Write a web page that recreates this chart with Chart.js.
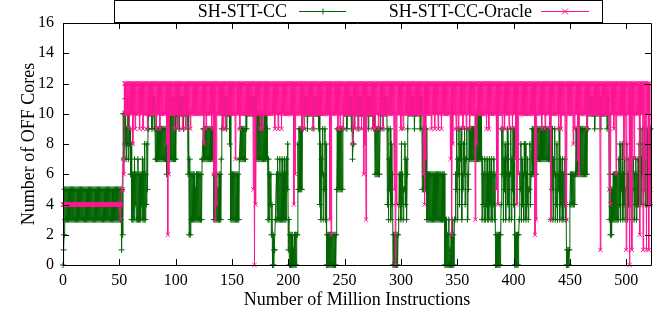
<!DOCTYPE html>
<html>
<head>
<meta charset="utf-8">
<script src="https://cdn.jsdelivr.net/npm/chart.js@4/dist/chart.umd.min.js"></script>
<style>
  html, body { margin: 0; padding: 0; background: #fff; }
  #wrap { width: 657px; height: 323px; }
</style>
</head>
<body>
<div id="wrap"><canvas id="c" width="657" height="323"></canvas></div>
<script>
// OFF cores per million instructions (x = 0 .. 521).
// Each interval holds a low and a high sample: low is plotted at x, high at x + 0.5.
const seriesNames = ['SH-STT-CC', 'SH-STT-CC-Oracle'];

const ccLow = [
  0,2,3,3,3,3,3,3,3,3,
  3,3,3,3,3,3,3,3,3,3,
  3,3,3,3,3,3,3,3,3,3,
  3,3,3,3,3,3,3,3,3,3,
  3,3,3,3,3,3,3,3,3,3,
  3,3,1,2,7,8,7,8,7,8,
  6,3,3,3,4,3,3,3,3,3,
  4,3,3,3,4,5,9,10,10,9,
  10,9,7,7,7,7,7,7,7,7,
  7,7,6,7,7,7,7,7,7,7,
  7,10,10,9,10,10,10,9,10,10,
  10,6,2,2,3,3,3,3,3,3,
  3,3,3,3,7,7,7,7,7,7,
  7,7,7,7,3,3,3,3,3,3,
  3,9,10,10,10,9,10,10,8,3,
  3,3,3,3,3,3,3,7,7,7,
  7,7,7,9,10,10,10,10,10,10,
  10,10,7,7,7,7,7,7,7,7,
  7,7,3,3,4,2,0,0,1,3,
  3,3,3,3,3,3,3,3,3,5,
  1,0,0,0,0,0,0,0,2,5,
  5,5,5,9,10,10,10,9,10,10,
  10,10,9,10,10,10,10,9,4,3,
  6,3,5,3,0,0,0,0,0,0,
  0,0,0,5,5,5,5,5,5,10,
  10,10,9,10,10,10,9,7,8,10,
  10,10,9,10,10,10,10,9,10,10,
  10,9,10,10,10,10,9,6,6,6,
  6,6,10,10,9,10,10,10,4,3,
  5,3,4,0,0,0,0,0,3,4,
  3,4,3,5,4,3,9,10,10,10,
  10,10,9,10,10,10,10,9,10,5,
  5,5,5,3,3,3,3,3,3,3,
  3,3,3,3,3,3,3,3,3,0,
  0,0,0,0,0,0,0,0,3,5,
  3,6,4,7,3,5,6,4,7,3,
  5,7,7,7,7,7,7,7,7,7,
  7,7,3,4,3,3,4,3,3,4,
  3,3,4,3,0,0,0,0,0,4,
  6,3,5,3,7,4,3,6,3,5,
  4,0,0,0,0,3,5,3,4,3,
  6,3,4,3,5,4,6,6,6,6,
  6,7,7,7,7,7,7,7,7,7,
  7,7,7,3,5,3,6,3,4,3,
  5,3,4,3,3,4,3,0,0,0,
  4,4,4,4,4,6,6,6,6,6,
  6,6,6,6,6,6,9,10,10,10,
  10,10,9,10,10,10,10,9,10,10,
  10,10,10,9,10,3,2,2,3,3,
  3,3,3,3,4,3,5,3,4,3,
  5,3,4,3,4,3,5,3,4,3,
  4,4,5,4,6,4,5,4,6,4,
  5,4
];

const ccHigh = [
  1,5,5,5,5,5,5,5,5,5,
  5,5,5,5,5,5,5,5,5,5,
  5,5,5,5,5,5,5,5,5,5,
  5,5,5,5,5,5,5,5,5,5,
  5,5,5,5,5,5,5,5,5,5,
  5,5,5,10,10,11,9,11,10,9,
  8,6,6,7,6,6,7,6,6,6,
  7,6,8,6,8,9,11,11,11,11,
  11,11,9,9,9,9,9,9,9,9,
  9,9,9,9,11,10,11,11,10,11,
  10,11,11,11,11,11,11,11,11,11,
  11,10,7,6,6,6,6,5,6,6,
  6,6,6,7,9,9,9,9,9,9,
  9,9,9,9,6,6,6,5,6,6,
  7,11,11,11,11,11,11,11,10,6,
  6,6,6,6,6,6,7,9,9,9,
  9,9,10,11,11,11,11,11,11,11,
  11,11,10,10,10,10,10,9,10,10,
  10,9,7,6,6,4,2,1,3,6,
  7,6,7,6,7,6,7,6,7,8,
  3,2,2,2,1,2,2,2,8,9,
  9,9,9,11,11,11,11,11,11,11,
  11,11,11,11,11,11,11,11,8,7,
  9,6,9,8,2,2,2,2,2,2,
  2,2,2,9,9,9,9,9,9,11,
  11,11,11,11,11,11,11,8,10,11,
  11,11,11,11,11,11,11,11,11,11,
  11,11,11,11,11,11,11,9,9,9,
  9,9,11,11,11,11,11,11,9,7,
  9,8,6,2,2,2,2,2,6,6,
  8,6,5,8,7,6,11,11,11,11,
  11,11,11,11,11,11,11,11,11,9,
  9,9,9,6,6,6,6,6,6,6,
  6,6,6,6,6,6,6,6,6,3,
  3,2,3,1,2,3,2,3,6,9,
  7,9,8,9,6,8,9,7,9,6,
  9,9,9,9,9,9,10,10,10,10,
  10,10,7,6,7,6,7,6,7,6,
  7,6,7,6,2,2,2,2,2,9,
  9,7,8,6,9,8,6,9,7,9,
  9,2,2,2,2,6,8,7,6,8,
  8,6,7,5,8,6,9,9,9,9,
  9,9,9,9,9,9,9,9,9,9,
  9,9,9,9,9,7,9,6,8,6,
  9,7,6,7,6,7,6,1,1,1,
  6,6,6,6,6,9,9,9,9,9,
  9,9,9,9,9,9,11,11,11,11,
  11,11,11,11,11,11,11,11,11,11,
  11,11,11,11,11,6,5,5,6,6,
  6,6,6,7,8,6,8,6,7,5,
  8,6,7,6,7,5,7,6,7,6,
  7,8,9,7,9,8,9,7,9,8,
  9,9
];

const oracleLow = [
  4,4,4,4,4,4,4,4,4,4,
  4,4,4,4,4,4,4,4,4,4,
  4,4,4,4,4,4,4,4,4,4,
  4,4,4,4,4,4,4,4,4,4,
  4,4,4,4,4,4,4,4,4,4,
  4,3,4,5,6,10,10,10,10,9,
  10,10,8,10,9,10,10,10,9,10,
  10,9,10,10,10,9,10,10,10,10,
  10,10,10,9,10,10,9,10,10,10,
  10,10,8,2,6,10,10,10,10,9,
  10,10,9,10,10,10,9,10,10,9,
  10,10,10,9,10,10,10,10,10,10,
  10,10,10,10,10,8,10,9,10,10,
  10,10,9,10,6,3,4,10,10,10,
  10,10,9,10,9,10,10,10,10,10,
  10,10,10,7,10,10,10,9,10,10,
  10,10,10,10,10,10,10,10,10,5,
  0,4,10,10,10,9,10,9,10,10,
  10,10,10,10,10,10,10,10,9,10,
  10,9,10,10,9,10,10,10,10,10,
  10,10,10,10,10,4,6,10,10,10,
  10,10,9,10,9,10,10,10,10,10,
  10,10,9,10,10,10,10,10,10,10,
  10,10,10,10,10,10,10,3,2,10,
  10,10,10,10,9,10,9,10,10,9,
  10,10,10,10,10,10,10,8,10,9,
  10,10,9,10,10,9,10,6,8,3,
  10,10,10,10,10,9,10,9,10,10,
  9,10,10,10,9,10,10,10,10,10,
  10,10,10,10,5,0,4,10,10,10,
  9,10,9,10,10,10,10,10,10,10,
  10,10,10,10,10,10,10,10,10,10,
  6,4,7,10,10,10,10,9,10,10,
  9,10,10,9,10,10,9,10,10,10,
  10,10,10,10,7,2,8,10,10,9,
  10,9,10,10,10,9,10,10,9,10,
  10,9,10,10,10,10,3,8,10,10,
  10,10,10,10,10,10,9,10,9,10,
  10,10,10,10,10,5,4,10,10,10,
  9,10,9,10,10,10,9,10,10,9,
  10,10,7,4,6,10,10,10,10,10,
  10,10,10,10,10,10,10,10,10,2,
  3,10,10,10,10,9,10,10,9,10,
  10,10,9,3,10,10,10,10,10,10,
  9,10,9,10,10,10,4,3,10,10,
  10,10,10,8,9,10,10,7,6,10,
  10,10,10,10,10,9,10,10,10,10,
  10,10,10,10,10,10,10,1,10,10,
  10,10,10,10,10,5,4,10,10,9,
  10,6,10,10,10,10,10,10,7,10,
  1,10,10,0,4,1,10,7,10,10,
  10,10,2,10,10,1,5,7,1,10,
  1,4
];

const oracleHigh = [
  4,4,4,4,4,4,4,4,4,4,
  4,4,4,4,4,4,4,4,4,4,
  4,4,4,4,4,4,4,4,4,4,
  4,4,4,4,4,4,4,4,4,4,
  4,4,4,4,4,4,4,4,4,4,
  4,4,5,7,12,12,12,12,12,12,
  12,12,12,12,12,12,12,12,12,12,
  12,12,12,12,12,12,12,12,12,12,
  12,12,12,12,12,12,12,12,12,12,
  12,12,12,12,12,12,12,12,12,12,
  12,12,12,12,12,12,12,12,12,12,
  12,12,12,12,12,12,12,12,12,12,
  12,12,12,12,12,12,12,12,12,12,
  12,12,12,12,12,12,12,12,12,12,
  12,12,12,12,12,12,12,12,12,12,
  12,12,12,12,12,12,12,12,12,12,
  12,12,12,12,12,12,12,12,12,12,
  12,12,12,12,12,12,12,12,12,12,
  12,12,12,12,12,12,12,12,12,12,
  12,12,12,12,12,12,12,12,12,12,
  12,12,12,12,12,12,12,12,12,12,
  12,12,12,12,12,12,12,12,12,12,
  12,12,12,12,12,12,12,12,12,12,
  12,12,12,12,12,12,12,12,12,12,
  12,12,12,12,12,12,12,12,12,12,
  12,12,12,12,12,12,12,12,12,12,
  12,12,12,12,12,12,12,12,12,12,
  12,12,12,12,12,12,12,12,12,12,
  12,12,12,12,12,12,12,12,12,12,
  12,12,12,12,12,12,12,12,12,12,
  12,12,12,12,12,12,12,12,12,12,
  12,12,12,12,12,12,12,12,12,12,
  12,12,12,12,12,12,12,12,12,12,
  12,12,12,12,12,12,12,12,12,12,
  12,12,12,12,12,12,12,12,12,12,
  12,12,12,12,12,12,12,12,12,12,
  12,12,12,12,12,12,12,12,12,12,
  12,12,12,12,12,12,12,12,12,12,
  12,12,12,12,12,12,12,12,12,12,
  12,12,12,12,12,12,12,12,12,12,
  12,12,12,12,12,12,12,12,12,12,
  12,12,12,12,12,12,12,12,12,12,
  12,12,12,12,12,12,12,12,12,12,
  12,12,12,12,12,12,12,12,12,12,
  12,12,12,12,12,12,12,12,12,12,
  12,12,12,12,12,12,12,12,12,12,
  12,12,12,12,12,12,12,12,12,12,
  12,12,12,12,12,12,12,12,12,12,
  12,12,12,12,12,12,12,12,12,12,
  12,12,12,12,12,12,12,12,12,12,
  12,12,12,12,12,12,12,12,12,12,
  12,12,12,12,12,12,12,12,12,12,
  12,5
];

const xTickValues = [0, 50, 100, 150, 200, 250, 300, 350, 400, 450, 500];
const yTickValues = [0, 2, 4, 6, 8, 10, 12, 14, 16];

const GREEN = '#006400';
const PINK = '#ff1493';
const FONT = '"Liberation Serif", "Times New Roman", serif';

// Interleave the low and high samples of each interval into one trace
function toPoints(low, high) {
  const pts = [];
  for (let i = 0; i < low.length; i++) {
    pts.push({ x: i, y: low[i] });
    pts.push({ x: i + 0.5, y: high[i] });
  }
  return pts;
}

// Plot frame with inward, mirrored tick marks
const framePlugin = {
  id: 'frame',
  afterDatasetsDraw(chart) {
    const { ctx, chartArea: a, scales } = chart;
    ctx.save();
    ctx.strokeStyle = '#000';
    ctx.lineWidth = 1;
    ctx.beginPath();
    ctx.rect(a.left + 0.5, a.top + 0.5, a.right - a.left, a.bottom - a.top);
    ctx.stroke();
    const tl = 6;
    ctx.beginPath();
    scales.x.ticks.forEach(t => {
      const px = Math.round(scales.x.getPixelForValue(t.value)) + 0.5;
      ctx.moveTo(px, a.bottom); ctx.lineTo(px, a.bottom - tl);
      ctx.moveTo(px, a.top); ctx.lineTo(px, a.top + tl);
    });
    scales.y.ticks.forEach(t => {
      const py = Math.round(scales.y.getPixelForValue(t.value)) + 0.5;
      ctx.moveTo(a.left, py); ctx.lineTo(a.left + tl, py);
      ctx.moveTo(a.right, py); ctx.lineTo(a.right - tl, py);
    });
    ctx.stroke();
    ctx.restore();
  }
};

// Boxed key across the top of the plot
const keyPlugin = {
  id: 'boxKey',
  afterDraw(chart) {
    const ctx = chart.ctx;
    ctx.save();
    ctx.strokeStyle = '#000';
    ctx.lineWidth = 1;
    ctx.strokeRect(114.5, 0.5, 488, 22);
    ctx.font = '18px ' + FONT;
    ctx.textAlign = 'right';
    ctx.textBaseline = 'middle';
    const entries = [
      { ds: chart.data.datasets[0], textRight: 287, x0: 299, x1: 346 },
      { ds: chart.data.datasets[1], textRight: 532, x0: 541, x1: 589 }
    ];
    entries.forEach(e => {
      ctx.fillStyle = '#000';
      ctx.fillText(e.ds.label, e.textRight, 12);
      ctx.strokeStyle = e.ds.borderColor;
      ctx.beginPath();
      ctx.moveTo(e.x0, 11.5); ctx.lineTo(e.x1, 11.5);
      ctx.stroke();
      const mx = (e.x0 + e.x1) / 2, r = 3;
      ctx.beginPath();
      if (e.ds.pointStyle === 'cross') {
        ctx.moveTo(mx - r, 11.5); ctx.lineTo(mx + r, 11.5);
        ctx.moveTo(mx + 0.5, 11.5 - r); ctx.lineTo(mx + 0.5, 11.5 + r);
      } else {
        ctx.moveTo(mx - r, 11.5 - r); ctx.lineTo(mx + r, 11.5 + r);
        ctx.moveTo(mx + r, 11.5 - r); ctx.lineTo(mx - r, 11.5 + r);
      }
      ctx.stroke();
    });
    ctx.restore();
  }
};

new Chart(document.getElementById('c'), {
  type: 'line',
  data: {
    datasets: [
      {
        label: seriesNames[0],
        data: toPoints(ccLow, ccHigh),
        borderColor: GREEN,
        backgroundColor: GREEN,
        borderWidth: 1,
        pointStyle: 'cross',
        pointRadius: 3,
        pointBorderWidth: 1,
        pointBorderColor: GREEN,
        tension: 0,
        clip: 5,
        order: 2
      },
      {
        label: seriesNames[1],
        data: toPoints(oracleLow, oracleHigh),
        borderColor: PINK,
        backgroundColor: PINK,
        borderWidth: 1,
        pointStyle: 'crossRot',
        pointRadius: 3,
        pointBorderWidth: 1,
        pointBorderColor: PINK,
        tension: 0,
        clip: 5,
        order: 1
      }
    ]
  },
  options: {
    responsive: false,
    devicePixelRatio: 1,
    animation: false,
    events: [],
    layout: { padding: { left: 0, right: 6, top: 23, bottom: 0 } },
    plugins: {
      legend: { display: false },
      tooltip: { enabled: false }
    },
    scales: {
      x: {
        type: 'linear',
        min: 0,
        max: 522,
        grid: { display: false, drawTicks: false },
        border: { display: false },
        afterBuildTicks: s => { s.ticks = xTickValues.map(v => ({ value: v })); },
        afterFit: s => { s.height = 58; },
        ticks: {
          color: '#000',
          font: { family: FONT, size: 16 },
          padding: 6,
          maxRotation: 0,
          autoSkip: false
        },
        title: {
          display: true,
          text: 'Number of Million Instructions',
          color: '#000',
          font: { family: FONT, size: 18 },
          padding: { top: 4, bottom: 12 }
        }
      },
      y: {
        min: 0,
        max: 16,
        grid: { display: false, drawTicks: false },
        border: { display: false },
        afterBuildTicks: s => { s.ticks = yTickValues.map(v => ({ value: v })); },
        afterFit: s => { s.width = 63; },
        ticks: {
          color: '#000',
          font: { family: FONT, size: 16 },
          padding: 9,
          autoSkip: false
        },
        title: {
          display: true,
          text: 'Number of OFF Cores',
          color: '#000',
          font: { family: FONT, size: 18 },
          padding: { top: 18, bottom: 0 }
        }
      }
    }
  },
  plugins: [framePlugin, keyPlugin]
});
</script>
</body>
</html>
